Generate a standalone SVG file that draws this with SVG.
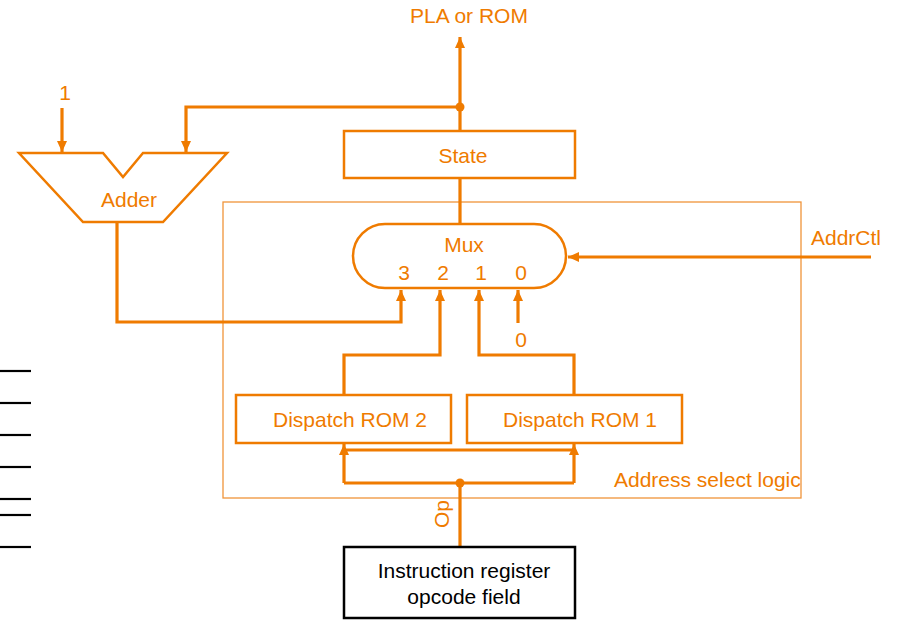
<svg xmlns="http://www.w3.org/2000/svg" width="897" height="620" viewBox="0 0 897 620">
<style>
text{font-family:"Liberation Sans",Arial,sans-serif;font-size:21px;fill:#EF7B00}
.blk{fill:#000}
.node{fill:#fff;stroke:#EF7B00;stroke-width:2.5}
.wire{fill:none;stroke:#EF7B00;stroke-width:3.2}
.area{fill:none;stroke:#F0943A;stroke-width:1.3}
.tick{stroke:#000;stroke-width:2.2}
</style>
<defs>
<marker id="ah" markerUnits="userSpaceOnUse" markerWidth="12" markerHeight="10" refX="11" refY="5" orient="auto">
<path d="M0,0 L11,5 L0,10 z" fill="#EF7B00"/>
</marker>
</defs>
<g id="ticks">
<line class="tick" x1="0" y1="371" x2="31" y2="371"/>
<line class="tick" x1="0" y1="403" x2="31" y2="403"/>
<line class="tick" x1="0" y1="435" x2="31" y2="435"/>
<line class="tick" x1="0" y1="467" x2="31" y2="467"/>
<line class="tick" x1="0" y1="499" x2="31" y2="499"/>
<line class="tick" x1="0" y1="515" x2="31" y2="515"/>
<line class="tick" x1="0" y1="547" x2="31" y2="547"/>
</g>
<g id="address-select-logic">
<rect class="area" x="223" y="202" width="578" height="296"/>
<text x="614" y="487">Address select logic</text>
</g>
<g id="connectors">
<path class="wire" d="M460 131 V37" marker-end="url(#ah)"/>
<path class="wire" d="M460 107 H186 V152" marker-end="url(#ah)"/>
<path class="wire" d="M62 108 V152" marker-end="url(#ah)"/>
<path class="wire" d="M460 178 V224"/>
<path class="wire" d="M117 222 V322 H401 V290" marker-end="url(#ah)"/>
<path class="wire" d="M344 395 V355 H440 V290" marker-end="url(#ah)"/>
<path class="wire" d="M574 395 V355 H479 V290" marker-end="url(#ah)"/>
<path class="wire" d="M518 323 V290" marker-end="url(#ah)"/>
<path class="wire" d="M871 257 H568" marker-end="url(#ah)"/>
<path class="wire" d="M460 546 V483"/>
<path class="wire" d="M344 483 H574"/>
<path class="wire" d="M344 450 H574"/>
<path class="wire" d="M344 483 V444" marker-end="url(#ah)"/>
<path class="wire" d="M574 483 V444" marker-end="url(#ah)"/>
<circle cx="460" cy="107" r="4.5" fill="#EF7B00"/>
<circle cx="460" cy="483" r="4.5" fill="#EF7B00"/>
<text x="65" y="100" text-anchor="middle">1</text>
<text x="469" y="23" text-anchor="middle">PLA or ROM</text>
<text x="811" y="245">AddrCtl</text>
<text x="521" y="347" text-anchor="middle">0</text>
<text transform="translate(449,514) rotate(-90)" text-anchor="middle">Op</text>
</g>
<g id="adder">
<path class="node" d="M19 153 H103 L123 177 L143 153 H227 L163 222 H83 Z"/>
<text x="129" y="207" text-anchor="middle">Adder</text>
</g>
<g id="state">
<rect class="node" x="344" y="131" width="231" height="47"/>
<text x="463" y="163" text-anchor="middle">State</text>
</g>
<g id="mux">
<rect class="node" x="353" y="224" width="213" height="64" rx="32" ry="32"/>
<text x="464" y="252" text-anchor="middle">Mux</text>
<text x="404" y="280" text-anchor="middle">3</text>
<text x="443" y="280" text-anchor="middle">2</text>
<text x="481" y="280" text-anchor="middle">1</text>
<text x="521" y="280" text-anchor="middle">0</text>
</g>
<g id="dispatch-rom-2">
<rect class="node" x="236" y="395" width="215" height="48"/>
<text x="350" y="427" text-anchor="middle">Dispatch ROM 2</text>
</g>
<g id="dispatch-rom-1">
<rect class="node" x="467" y="395" width="215" height="48"/>
<text x="580" y="427" text-anchor="middle">Dispatch ROM 1</text>
</g>
<g id="instruction-register">
<rect x="344" y="547" width="231" height="71" fill="#fff" stroke="#000" stroke-width="2.5"/>
<text class="blk" x="464" y="578" text-anchor="middle">Instruction register</text>
<text class="blk" x="464" y="604" text-anchor="middle">opcode field</text>
</g>
</svg>
